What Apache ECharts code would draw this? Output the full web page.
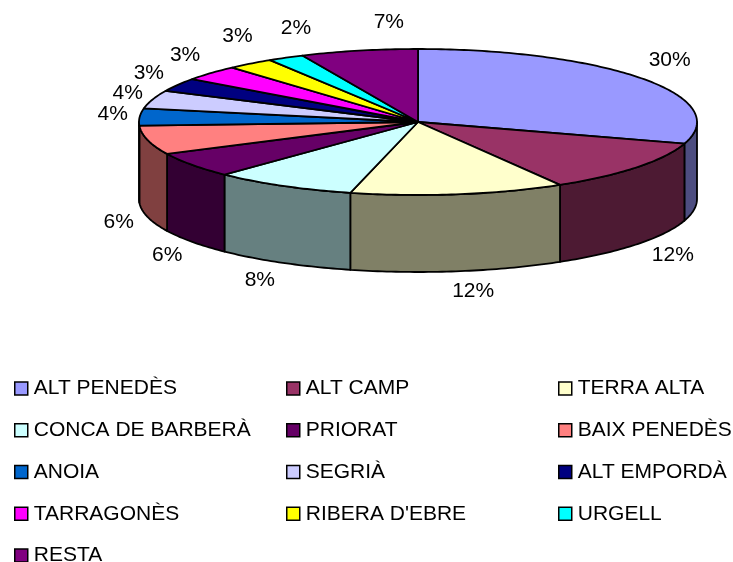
<!DOCTYPE html>
<html>
<head>
<meta charset="utf-8">
<style>
  html, body { margin: 0; padding: 0; background: #fff; }
  #chart { width: 733px; height: 562px; }
</style>
<script src="https://cdn.jsdelivr.net/npm/echarts@6/dist/echarts.min.js"></script>
</head>
<body>
<div id="chart"></div>
<script>
var categories = [
  "ALT PENEDÈS", "ALT CAMP", "TERRA ALTA", "CONCA DE BARBERÀ", "PRIORAT",
  "BAIX PENEDÈS", "ANOIA", "SEGRIÀ", "ALT EMPORDÀ", "TARRAGONÈS",
  "RIBERA D'EBRE", "URGELL", "RESTA"
];
// percentages, read from the slice boundaries (labels show them rounded)
var shares = [29.8, 11.7, 12.4, 8.3, 5.6, 6.4, 3.8, 4, 3, 3.4, 2.7, 2.1, 6.8];
var topColors = [
  "#9999FF", "#993366", "#FFFFCC", "#CCFFFF", "#660066", "#FF8080", "#0066CC",
  "#CCCCFF", "#000080", "#FF00FF", "#FFFF00", "#00FFFF", "#800080"
];

// drawing layout of the flattened pie
var cx = 418, cy = 122, rx = 279, ry = 73, depth = 77;
// label shift from the slice's outer edge, px
var labelShift = [
  [27, -19], [36, 11], [15, 20], [-23, 17], [-25, 13], [-29, 5], [-27, -3],
  [-25, -6], [-29, -12], [-26, -18], [-13, -27], [10, -29], [30, -28]
];

var total = shares.reduce(function(a, b) { return a + b; }, 0);
var starts = [];
shares.reduce(function(sum, v, i) {
  starts[i] = sum;
  return sum + v;
}, 0);

function toAngle(v) {
  return (v / total) * Math.PI * 2;
}
function rim(a, drop) {
  return [cx + rx * Math.sin(a), cy - ry * Math.cos(a) + (drop || 0)];
}
function arc(a0, a1, drop) {
  var n = Math.max(2, Math.ceil((a1 - a0) * 60)), pts = [];
  for (var i = 0; i <= n; i++) {
    pts.push(rim(a0 + ((a1 - a0) * i) / n, drop));
  }
  return pts;
}
function darken(hex) {
  var c = echarts.color.parse(hex);
  return "rgb(" + Math.round(c[0] / 2) + "," + Math.round(c[1] / 2) + "," + Math.round(c[2] / 2) + ")";
}

function renderSlice(i, api) {
  var a0 = toAngle(starts[i]);
  var a1 = toAngle(starts[i] + api.value(0));
  var children = [];

  // wall: only the part of the rim that faces the viewer
  var w0 = Math.max(a0, Math.PI / 2), w1 = Math.min(a1, (Math.PI * 3) / 2);
  if (w1 > w0) {
    var wall = arc(w0, w1, 0).concat(arc(w0, w1, depth).reverse());
    children.push({
      type: "polygon",
      shape: { points: wall },
      style: { fill: darken(topColors[i]), stroke: "#000", lineWidth: 1.8, lineJoin: "round" }
    });
  }

  children.push({
    type: "polygon",
    shape: { points: [[cx, cy]].concat(arc(a0, a1, 0)) },
    style: { fill: topColors[i], stroke: "#000", lineWidth: 1.8, lineJoin: "round" }
  });

  var mid = (a0 + a1) / 2;
  var edge = rim(mid, Math.cos(mid) < 0 ? depth : 0);
  children.push({
    type: "text",
    x: edge[0] + labelShift[i][0],
    y: edge[1] + labelShift[i][1],
    z2: 10,
    style: {
      text: Math.round(api.value(0)) + "%",
      fill: "#000",
      font: "21px 'Liberation Sans'",
      align: "center",
      verticalAlign: "middle"
    }
  });
  return { type: "group", children: children };
}

var seriesList = categories.map(function(name, i) {
  return {
    type: "custom",
    name: name,
    coordinateSystem: "none",
    silent: true,
    itemStyle: { color: topColors[i] },
    data: [[shares[i]]],
    renderItem: function(params, api) {
      return renderSlice(i, api);
    }
  };
});

function legendColumn(col, left) {
  return {
    orient: "vertical",
    left: left,
    top: 378,
    height: 210,
    padding: 0,
    itemWidth: 13,
    itemHeight: 13,
    itemGap: 20.75,
    selectedMode: false,
    icon: "rect",
    data: categories.filter(function(n, i) { return i % 3 === col; }),
    itemStyle: { borderColor: "#000", borderWidth: 1.5 },
    textStyle: { color: "#000", fontFamily: "Liberation Sans", fontSize: 21, padding: [0, 0, 4, 1] }
  };
}

var chart = echarts.init(document.getElementById("chart"));
chart.setOption({
  animation: false,
  backgroundColor: "#fff",
  legend: [legendColumn(0, 14), legendColumn(1, 286), legendColumn(2, 558)],
  series: seriesList
});
</script>
</body>
</html>
